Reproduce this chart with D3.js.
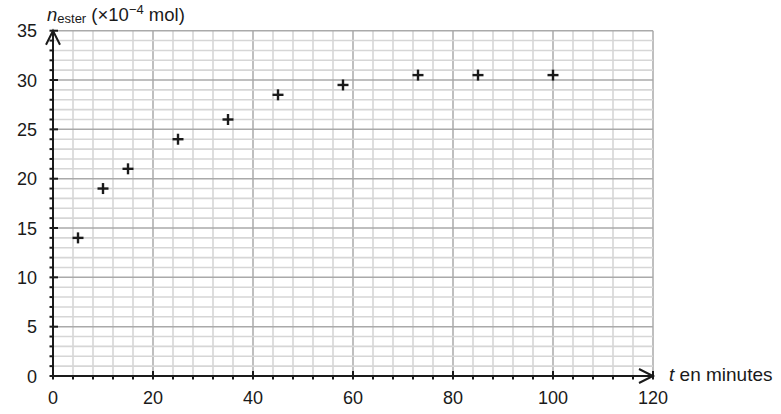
<!DOCTYPE html>
<html>
<head>
<meta charset="utf-8">
<script src="https://cdn.jsdelivr.net/npm/d3@7"></script>
<style>
  body { margin: 0; background: #fff; }
  svg text { font-family: "Liberation Sans", Arial, sans-serif; fill: #1a1a1a; }
</style>
</head>
<body>
<div id="chart"></div>
<script>
// measured values (t in minutes, n ester in 1e-4 mol)
var times = [5, 10, 15, 25, 35, 45, 58, 73, 85, 100];
var nEster = [14, 19, 21, 24, 26, 28.5, 29.5, 30.5, 30.5, 30.5];
var xTicks = [0, 20, 40, 60, 80, 100, 120];
var yTicks = [0, 5, 10, 15, 20, 25, 30, 35];

var width = 781, height = 414;
var svg = d3.select("#chart").append("svg")
    .attr("width", width)
    .attr("height", height);

var x = d3.scaleLinear().domain([0, 120]).range([53, 653]);
var y = d3.scaleLinear().domain([0, 35]).range([376, 30.7]);

//grid: minor lines
var grid = svg.append("g");
d3.range(0, 121, 4).forEach(function(v){
    grid.append("line")
        .attr("x1", x(v)).attr("x2", x(v))
        .attr("y1", y(0)).attr("y2", y(35))
        .attr("stroke", v % 20 == 0 ? "#aaaaaa" : "#d6d6d6")
        .attr("stroke-width", v % 20 == 0 ? 1.5 : 1.6);
});
d3.range(0, 36, 1).forEach(function(v){
    grid.append("line")
        .attr("x1", x(0)).attr("x2", x(120))
        .attr("y1", y(v)).attr("y2", y(v))
        .attr("stroke", v % 5 == 0 ? "#aaaaaa" : "#d6d6d6")
        .attr("stroke-width", v % 5 == 0 ? 1.5 : 1.6);
});

var axisColor = "#1a1a1a";

// x axis
var xAxis = svg.append("g");
xAxis.append("line")
    .attr("x1", x(0) - 1).attr("x2", x(120))
    .attr("y1", y(0)).attr("y2", y(0))
    .attr("stroke", axisColor).attr("stroke-width", 2);
d3.range(0, 121, 4).forEach(function(v){
    var major = v % 20 == 0;
    xAxis.append("line")
        .attr("x1", x(v)).attr("x2", x(v))
        .attr("y1", major ? y(0) - 5 : y(0))
        .attr("y2", y(0) + 3.5)
        .attr("stroke", axisColor).attr("stroke-width", 2);
});
// arrow head at the end of x axis
xAxis.append("path")
    .attr("d", "M" + (x(120) - 14) + "," + (y(0) - 7) + " L" + x(120) + "," + y(0) +
               " L" + (x(120) - 14) + "," + (y(0) + 7))
    .attr("fill", "none").attr("stroke", axisColor).attr("stroke-width", 2);
xAxis.selectAll("text.xt")
    .data(xTicks)
    .enter().append("text")
    .attr("class", "xt")
    .attr("x", function(d){ return x(d); })
    .attr("y", 404)
    .attr("text-anchor", "middle")
    .attr("font-size", 18)
    .text(function(d){ return d; });

// y axis
var yAxis = svg.append("g");
yAxis.append("line")
    .attr("x1", x(0)).attr("x2", x(0))
    .attr("y1", y(0) + 1).attr("y2", y(35))
    .attr("stroke", axisColor).attr("stroke-width", 2);
d3.range(0, 36, 1).forEach(function(v){
    var major = v % 5 == 0;
    yAxis.append("line")
        .attr("x1", x(0) - 3.5)
        .attr("x2", major ? x(0) + 5 : x(0))
        .attr("y1", y(v)).attr("y2", y(v))
        .attr("stroke", axisColor).attr("stroke-width", 2);
});
yAxis.append("path")
    .attr("d", "M" + (x(0) - 7) + "," + (y(35) + 14) + " L" + x(0) + "," + y(35) +
               " L" + (x(0) + 7) + "," + (y(35) + 14))
    .attr("fill", "none").attr("stroke", axisColor).attr("stroke-width", 2);
yAxis.selectAll("text.yt")
    .data(yTicks)
    .enter().append("text")
    .attr("class", "yt")
    .attr("x", 37)
    .attr("y", function(d){ return y(d) + 6.5; })
    .attr("text-anchor", "end")
    .attr("font-size", 18)
    .text(function(d){ return d; });

// axis titles
var yTitle = svg.append("text")
    .attr("x", 47).attr("y", 21)
    .attr("font-size", 18.5);
yTitle.append("tspan").attr("font-style", "italic").text("n");
yTitle.append("tspan").attr("font-size", 13).attr("dy", 2).text("ester");
yTitle.append("tspan").attr("dy", -2).text(" (×10");
yTitle.append("tspan").attr("font-size", 13).attr("dy", -7).text("−4");
yTitle.append("tspan").attr("dy", 7).text(" mol)");

var xTitle = svg.append("text")
    .attr("x", 669).attr("y", 381)
    .attr("font-size", 19);
xTitle.append("tspan").attr("font-style", "italic").text("t");
xTitle.append("tspan").text(" en minutes");

// data points as plus markers
var pts = times.map(function(t, i){ return {t: t, n: nEster[i]}; });
var marks = svg.selectAll("g.pt")
    .data(pts)
    .enter().append("g")
    .attr("class", "pt")
    .attr("transform", function(d){ return "translate(" + x(d.t) + "," + y(d.n) + ")"; });
marks.append("line")
    .attr("x1", -5.5).attr("x2", 5.5).attr("y1", 0).attr("y2", 0)
    .attr("stroke", "#1a1a1a").attr("stroke-width", 2.4);
marks.append("line")
    .attr("x1", 0).attr("x2", 0).attr("y1", -5.5).attr("y2", 5.5)
    .attr("stroke", "#1a1a1a").attr("stroke-width", 2.4);
</script>
</body>
</html>
